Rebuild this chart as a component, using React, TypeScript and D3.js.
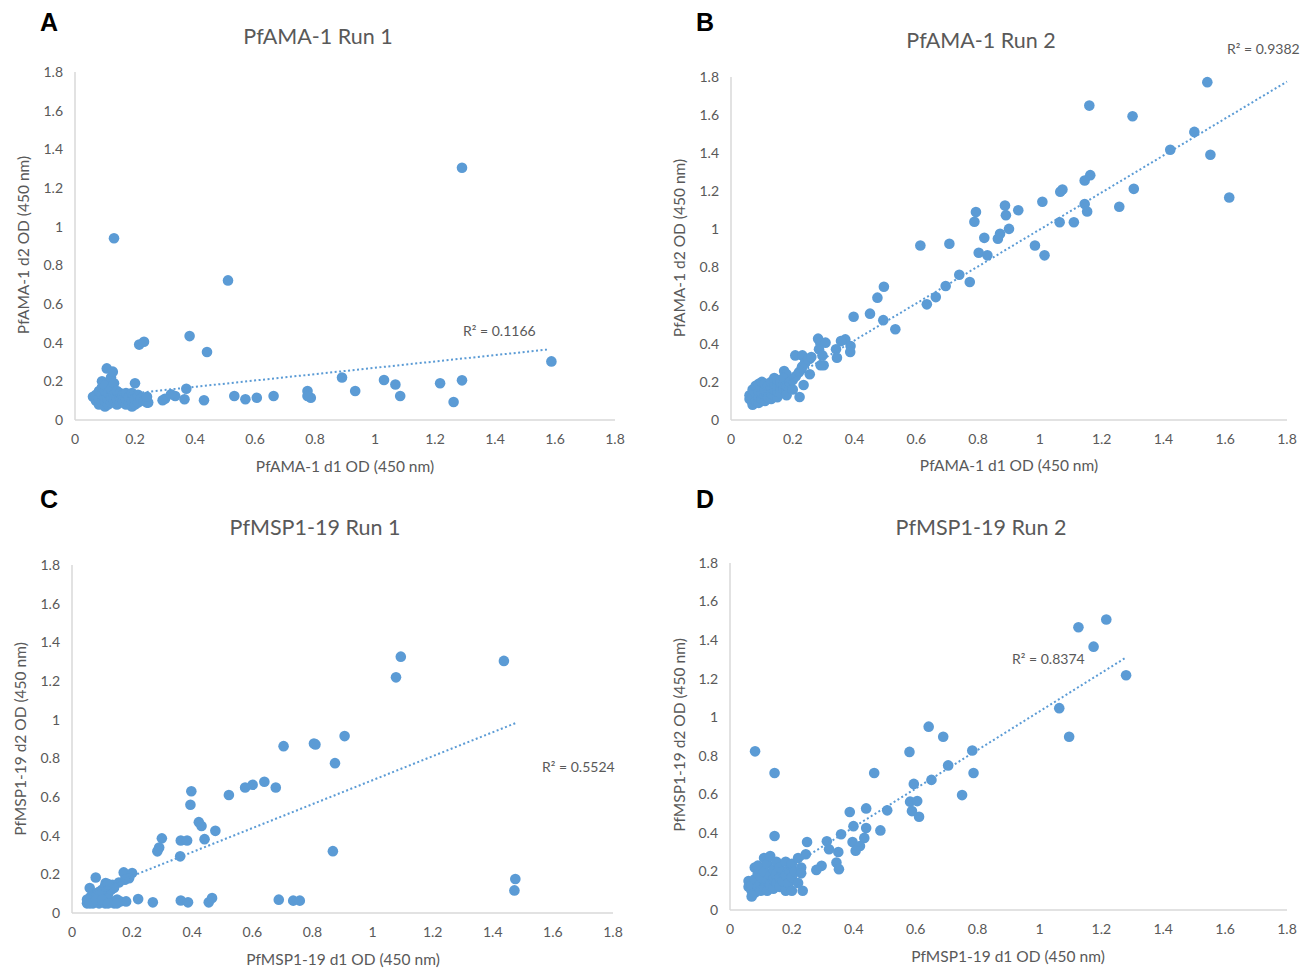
import React from "react";
import * as d3 from "d3";

// ---------- DATA ----------
const panelLetters = ["A", "B", "C", "D"];
const panelTitles = ["PfAMA-1 Run 1", "PfAMA-1 Run 2", "PfMSP1-19 Run 1", "PfMSP1-19 Run 2"];
const xTitles = ["PfAMA-1 d1 OD (450 nm)", "PfAMA-1 d1 OD (450 nm)", "PfMSP1-19 d1 OD (450 nm)", "PfMSP1-19 d1 OD (450 nm)"];
const yTitles = ["PfAMA-1 d2 OD (450 nm)", "PfAMA-1 d2 OD (450 nm)", "PfMSP1-19 d2 OD (450 nm)", "PfMSP1-19 d2 OD (450 nm)"];
const rSquared = ["R² = 0.1166", "R² = 0.9382", "R² = 0.5524", "R² = 0.8374"];
const tickValues = [0, 0.2, 0.4, 0.6, 0.8, 1, 1.2, 1.4, 1.6, 1.8];

// trendline: [intercept, slope, xStart, xEnd]
const trendA = [0.106, 0.164, 0.06, 1.58];
const trendB = [0.03, 0.97, 0.06, 1.8];
const trendC = [0.067, 0.62, 0.05, 1.475];
const trendD = [0.03, 1.0, 0.06, 1.28];

const pointsA: [number, number][] = [
  [0.13, 0.94], [1.29, 1.305], [0.51, 0.722], [0.382, 0.434], [0.44, 0.352], [0.214, 0.39], [0.23, 0.405],
  [1.588, 0.303], [0.89, 0.22], [0.934, 0.15], [1.03, 0.207], [1.068, 0.184], [1.084, 0.124], [1.217, 0.19],
  [1.29, 0.205], [1.262, 0.093], [0.775, 0.15], [0.786, 0.115], [0.775, 0.124], [0.662, 0.124], [0.606, 0.115],
  [0.568, 0.107], [0.531, 0.124], [0.43, 0.102], [0.371, 0.162], [0.365, 0.107], [0.334, 0.124], [0.32, 0.133],
  [0.30, 0.11], [0.292, 0.102], [0.244, 0.09], [0.23, 0.107],
  [0.06, 0.12], [0.07, 0.10], [0.07, 0.13], [0.08, 0.08], [0.08, 0.11], [0.08, 0.15], [0.09, 0.09], [0.09, 0.13],
  [0.09, 0.17], [0.09, 0.20], [0.10, 0.07], [0.10, 0.10], [0.10, 0.12], [0.10, 0.15], [0.10, 0.18], [0.11, 0.08],
  [0.11, 0.11], [0.11, 0.14], [0.106, 0.267], [0.12, 0.09], [0.12, 0.12], [0.12, 0.16], [0.12, 0.22], [0.13, 0.10],
  [0.13, 0.13], [0.126, 0.25], [0.13, 0.19], [0.14, 0.08], [0.14, 0.11], [0.14, 0.15], [0.15, 0.09], [0.15, 0.12],
  [0.15, 0.14], [0.16, 0.10], [0.16, 0.13], [0.17, 0.08], [0.17, 0.11], [0.17, 0.14], [0.18, 0.09], [0.18, 0.12],
  [0.19, 0.07], [0.19, 0.10], [0.19, 0.14], [0.20, 0.08], [0.20, 0.11], [0.20, 0.19], [0.21, 0.13], [0.21, 0.09],
  [0.22, 0.11], [0.23, 0.10], [0.24, 0.09], [0.24, 0.12],
];

const pointsB: [number, number][] = [
  [1.542, 1.773], [1.16, 1.65], [1.30, 1.594], [1.50, 1.512], [1.422, 1.418], [1.552, 1.392], [1.613, 1.168],
  [1.304, 1.213], [1.163, 1.285], [1.145, 1.257], [1.073, 1.21], [1.066, 1.198], [1.145, 1.133], [1.153, 1.094],
  [1.257, 1.119], [1.008, 1.145], [0.93, 1.101], [0.887, 1.126], [0.89, 1.075], [0.793, 1.091], [0.788, 1.04],
  [0.90, 1.003], [0.871, 0.977], [0.864, 0.951], [0.82, 0.956], [1.064, 1.038], [1.11, 1.038], [0.984, 0.916],
  [1.015, 0.864], [0.802, 0.878], [0.83, 0.864], [0.613, 0.916], [0.707, 0.925], [0.739, 0.762], [0.773, 0.724],
  [0.695, 0.703], [0.663, 0.645], [0.634, 0.607], [0.495, 0.699], [0.474, 0.642], [0.45, 0.558], [0.493, 0.524],
  [0.532, 0.476], [0.397, 0.542], [0.37, 0.423], [0.356, 0.414], [0.387, 0.388], [0.386, 0.357], [0.34, 0.371],
  [0.343, 0.327], [0.282, 0.427], [0.289, 0.406], [0.306, 0.406], [0.285, 0.371], [0.296, 0.339], [0.30, 0.287],
  [0.29, 0.287], [0.255, 0.322], [0.208, 0.339], [0.231, 0.339], [0.255, 0.24], [0.235, 0.184], [0.222, 0.121],
  [0.24, 0.30], [0.228, 0.266], [0.172, 0.257], [0.18, 0.24],
  [0.06, 0.11], [0.06, 0.13], [0.07, 0.09], [0.07, 0.12], [0.07, 0.16], [0.07, 0.08], [0.08, 0.10], [0.08, 0.14],
  [0.08, 0.18], [0.09, 0.09], [0.09, 0.12], [0.09, 0.15], [0.09, 0.19], [0.10, 0.11], [0.10, 0.14], [0.10, 0.17],
  [0.10, 0.20], [0.11, 0.10], [0.11, 0.13], [0.11, 0.16], [0.11, 0.19], [0.12, 0.12], [0.12, 0.15], [0.12, 0.18],
  [0.13, 0.11], [0.13, 0.14], [0.13, 0.17], [0.13, 0.20], [0.14, 0.13], [0.14, 0.16], [0.14, 0.19], [0.14, 0.22],
  [0.15, 0.12], [0.15, 0.15], [0.15, 0.18], [0.15, 0.21], [0.16, 0.14], [0.16, 0.17], [0.16, 0.20], [0.17, 0.16],
  [0.17, 0.19], [0.17, 0.22], [0.18, 0.15], [0.18, 0.18], [0.18, 0.13], [0.19, 0.17], [0.19, 0.20], [0.20, 0.16],
  [0.20, 0.21], [0.21, 0.23], [0.22, 0.25], [0.23, 0.28], [0.24, 0.30], [0.25, 0.32], [0.26, 0.33],
];

const pointsC: [number, number][] = [
  [1.094, 1.326], [1.078, 1.219], [1.437, 1.304], [0.907, 0.915], [0.704, 0.863], [0.805, 0.877], [0.81, 0.872],
  [0.875, 0.775], [0.868, 0.32], [1.475, 0.176], [1.472, 0.117], [0.64, 0.679], [0.601, 0.663], [0.576, 0.649],
  [0.678, 0.649], [0.522, 0.61], [0.397, 0.63], [0.394, 0.56], [0.422, 0.47], [0.431, 0.45], [0.477, 0.425],
  [0.441, 0.382], [0.362, 0.375], [0.383, 0.375], [0.299, 0.386], [0.29, 0.339], [0.284, 0.319], [0.36, 0.293],
  [0.079, 0.184], [0.059, 0.129], [0.112, 0.155], [0.172, 0.21], [0.20, 0.207], [0.19, 0.18], [0.176, 0.172],
  [0.156, 0.158], [0.135, 0.146], [0.22, 0.072], [0.269, 0.055], [0.362, 0.065], [0.386, 0.055], [0.455, 0.055],
  [0.466, 0.077], [0.688, 0.069], [0.736, 0.064], [0.758, 0.064],
  [0.05, 0.05], [0.06, 0.06], [0.07, 0.05], [0.08, 0.06], [0.09, 0.05], [0.10, 0.06], [0.11, 0.05], [0.12, 0.07],
  [0.13, 0.06], [0.14, 0.05], [0.16, 0.06], [0.18, 0.06], [0.15, 0.07], [0.06, 0.08], [0.07, 0.09], [0.08, 0.10],
  [0.09, 0.08], [0.10, 0.09], [0.11, 0.11], [0.12, 0.10], [0.13, 0.12], [0.14, 0.13], [0.10, 0.12], [0.09, 0.11],
  [0.11, 0.14], [0.12, 0.15], [0.05, 0.07], [0.06, 0.05], [0.08, 0.07], [0.10, 0.07], [0.12, 0.05], [0.15, 0.05],
];

const pointsD: [number, number][] = [
  [1.216, 1.507], [1.126, 1.467], [1.175, 1.366], [1.28, 1.218], [1.064, 1.047], [1.096, 0.899], [0.642, 0.951],
  [0.689, 0.899], [0.783, 0.827], [0.58, 0.82], [0.705, 0.75], [0.787, 0.711], [0.466, 0.711], [0.081, 0.823],
  [0.144, 0.711], [0.651, 0.675], [0.594, 0.654], [0.75, 0.596], [0.582, 0.562], [0.605, 0.565], [0.588, 0.513],
  [0.611, 0.484], [0.44, 0.527], [0.508, 0.517], [0.387, 0.508], [0.399, 0.435], [0.44, 0.425], [0.486, 0.413],
  [0.359, 0.393], [0.144, 0.384], [0.249, 0.353], [0.313, 0.357], [0.396, 0.353], [0.434, 0.374], [0.42, 0.332],
  [0.406, 0.307], [0.32, 0.315], [0.35, 0.301], [0.245, 0.289], [0.296, 0.229], [0.279, 0.208], [0.344, 0.246],
  [0.352, 0.212], [0.235, 0.1],
  [0.06, 0.15], [0.06, 0.12], [0.07, 0.10], [0.07, 0.13], [0.07, 0.07], [0.08, 0.09], [0.08, 0.16], [0.08, 0.22],
  [0.09, 0.12], [0.09, 0.19], [0.09, 0.23], [0.10, 0.10], [0.10, 0.14], [0.10, 0.17], [0.11, 0.12], [0.11, 0.20],
  [0.11, 0.27], [0.12, 0.15], [0.12, 0.10], [0.12, 0.24], [0.13, 0.13], [0.13, 0.18], [0.13, 0.28], [0.14, 0.11],
  [0.14, 0.16], [0.14, 0.21], [0.15, 0.14], [0.15, 0.19], [0.15, 0.25], [0.16, 0.12], [0.16, 0.17], [0.16, 0.22],
  [0.17, 0.15], [0.17, 0.20], [0.18, 0.10], [0.18, 0.18], [0.18, 0.25], [0.19, 0.14], [0.19, 0.21], [0.20, 0.10],
  [0.20, 0.17], [0.20, 0.24], [0.21, 0.20], [0.22, 0.14], [0.22, 0.27], [0.23, 0.22], [0.23, 0.19],
];

const allPoints = [pointsA, pointsB, pointsC, pointsD];
const allTrends = [trendA, trendB, trendC, trendD];

// ---------- LAYOUT ----------
type Layout = {
  x0: number; x1: number; yTop: number; yBot: number;
  letter: [number, number]; title: [number, number]; xTitle: [number, number]; yTitle: [number, number];
  r2: [number, number];
};
const layouts: Layout[] = [
  { x0: 75, x1: 615, yTop: 72, yBot: 420, letter: [40, 31], title: [318, 44], xTitle: [345, 472], yTitle: [29, 245], r2: [463, 336] },
  { x0: 731, x1: 1287, yTop: 77, yBot: 420, letter: [696, 31], title: [981, 48], xTitle: [1009, 471], yTitle: [685, 248], r2: [1227, 54] },
  { x0: 72, x1: 613, yTop: 565, yBot: 913, letter: [40, 508], title: [315, 535], xTitle: [343, 965], yTitle: [26, 739], r2: [542, 772] },
  { x0: 730, x1: 1287, yTop: 563, yBot: 910, letter: [696, 508], title: [981, 535], xTitle: [1008, 962], yTitle: [685, 735], r2: [1012, 664] },
];

const BLUE = "#5b9bd5";
const GREY = "#595959";
const FONT = "Lato, 'Open Sans', sans-serif";

function Panel({ i }: { i: number }) {
  const L = layouts[i];
  const x = d3.scaleLinear().domain([0, 1.8]).range([L.x0, L.x1]);
  const y = d3.scaleLinear().domain([0, 1.8]).range([L.yBot, L.yTop]);
  const [b0, b1, xs, xe] = allTrends[i];
  const line = d3.line<number>().x((v) => x(v)).y((v) => y(b0 + b1 * v));
  return (
    <g>
      <line x1={L.x0} x2={L.x0} y1={L.yTop} y2={L.yBot} stroke="#d9d9d9" strokeWidth={1.5} />
      <line x1={L.x0} x2={L.x1} y1={L.yBot} y2={L.yBot} stroke="#d9d9d9" strokeWidth={1.5} />
      {tickValues.map((t) => (
        <text key={"y" + t} x={L.x0 - 12} y={y(t)} dy="0.35em" textAnchor="end" fontSize={14} fill={GREY} fontFamily={FONT}>
          {d3.format("~g")(t)}
        </text>
      ))}
      {tickValues.map((t) => (
        <text key={"x" + t} x={x(t)} y={L.yBot + 24} textAnchor="middle" fontSize={14} fill={GREY} fontFamily={FONT}>
          {d3.format("~g")(t)}
        </text>
      ))}
      {allPoints[i].map((p, k) => (
        <circle key={k} cx={x(p[0])} cy={y(p[1])} r={5.3} fill={BLUE} />
      ))}
      <path d={line([xs, xe]) || ""} fill="none" stroke={BLUE} strokeWidth={2} strokeDasharray="2 2.5" />
      <text x={L.letter[0]} y={L.letter[1]} fontSize={25} fontWeight="bold" fill="#000" fontFamily="'Liberation Sans', Arial, sans-serif">
        {panelLetters[i]}
      </text>
      <text x={L.title[0]} y={L.title[1]} textAnchor="middle" fontSize={21.5} fill={GREY} fontFamily={FONT}>
        {panelTitles[i]}
      </text>
      <text x={L.xTitle[0]} y={L.xTitle[1]} textAnchor="middle" fontSize={15.5} fill={GREY} fontFamily={FONT}>
        {xTitles[i]}
      </text>
      <text transform={`translate(${L.yTitle[0]},${L.yTitle[1]}) rotate(-90)`} textAnchor="middle" fontSize={15.5} fill={GREY} fontFamily={FONT}>
        {yTitles[i]}
      </text>
      <text x={L.r2[0]} y={L.r2[1]} fontSize={14} fill={GREY} fontFamily={FONT}>
        {rSquared[i]}
      </text>
    </g>
  );
}

export default function App() {
  return (
    <svg width={1303} height={977} style={{ position: "absolute", left: 0, top: 0, background: "#fff" }}>
      <rect width={1303} height={977} fill="#fff" />
      {[0, 1, 2, 3].map((i) => (
        <Panel key={i} i={i} />
      ))}
    </svg>
  );
}
